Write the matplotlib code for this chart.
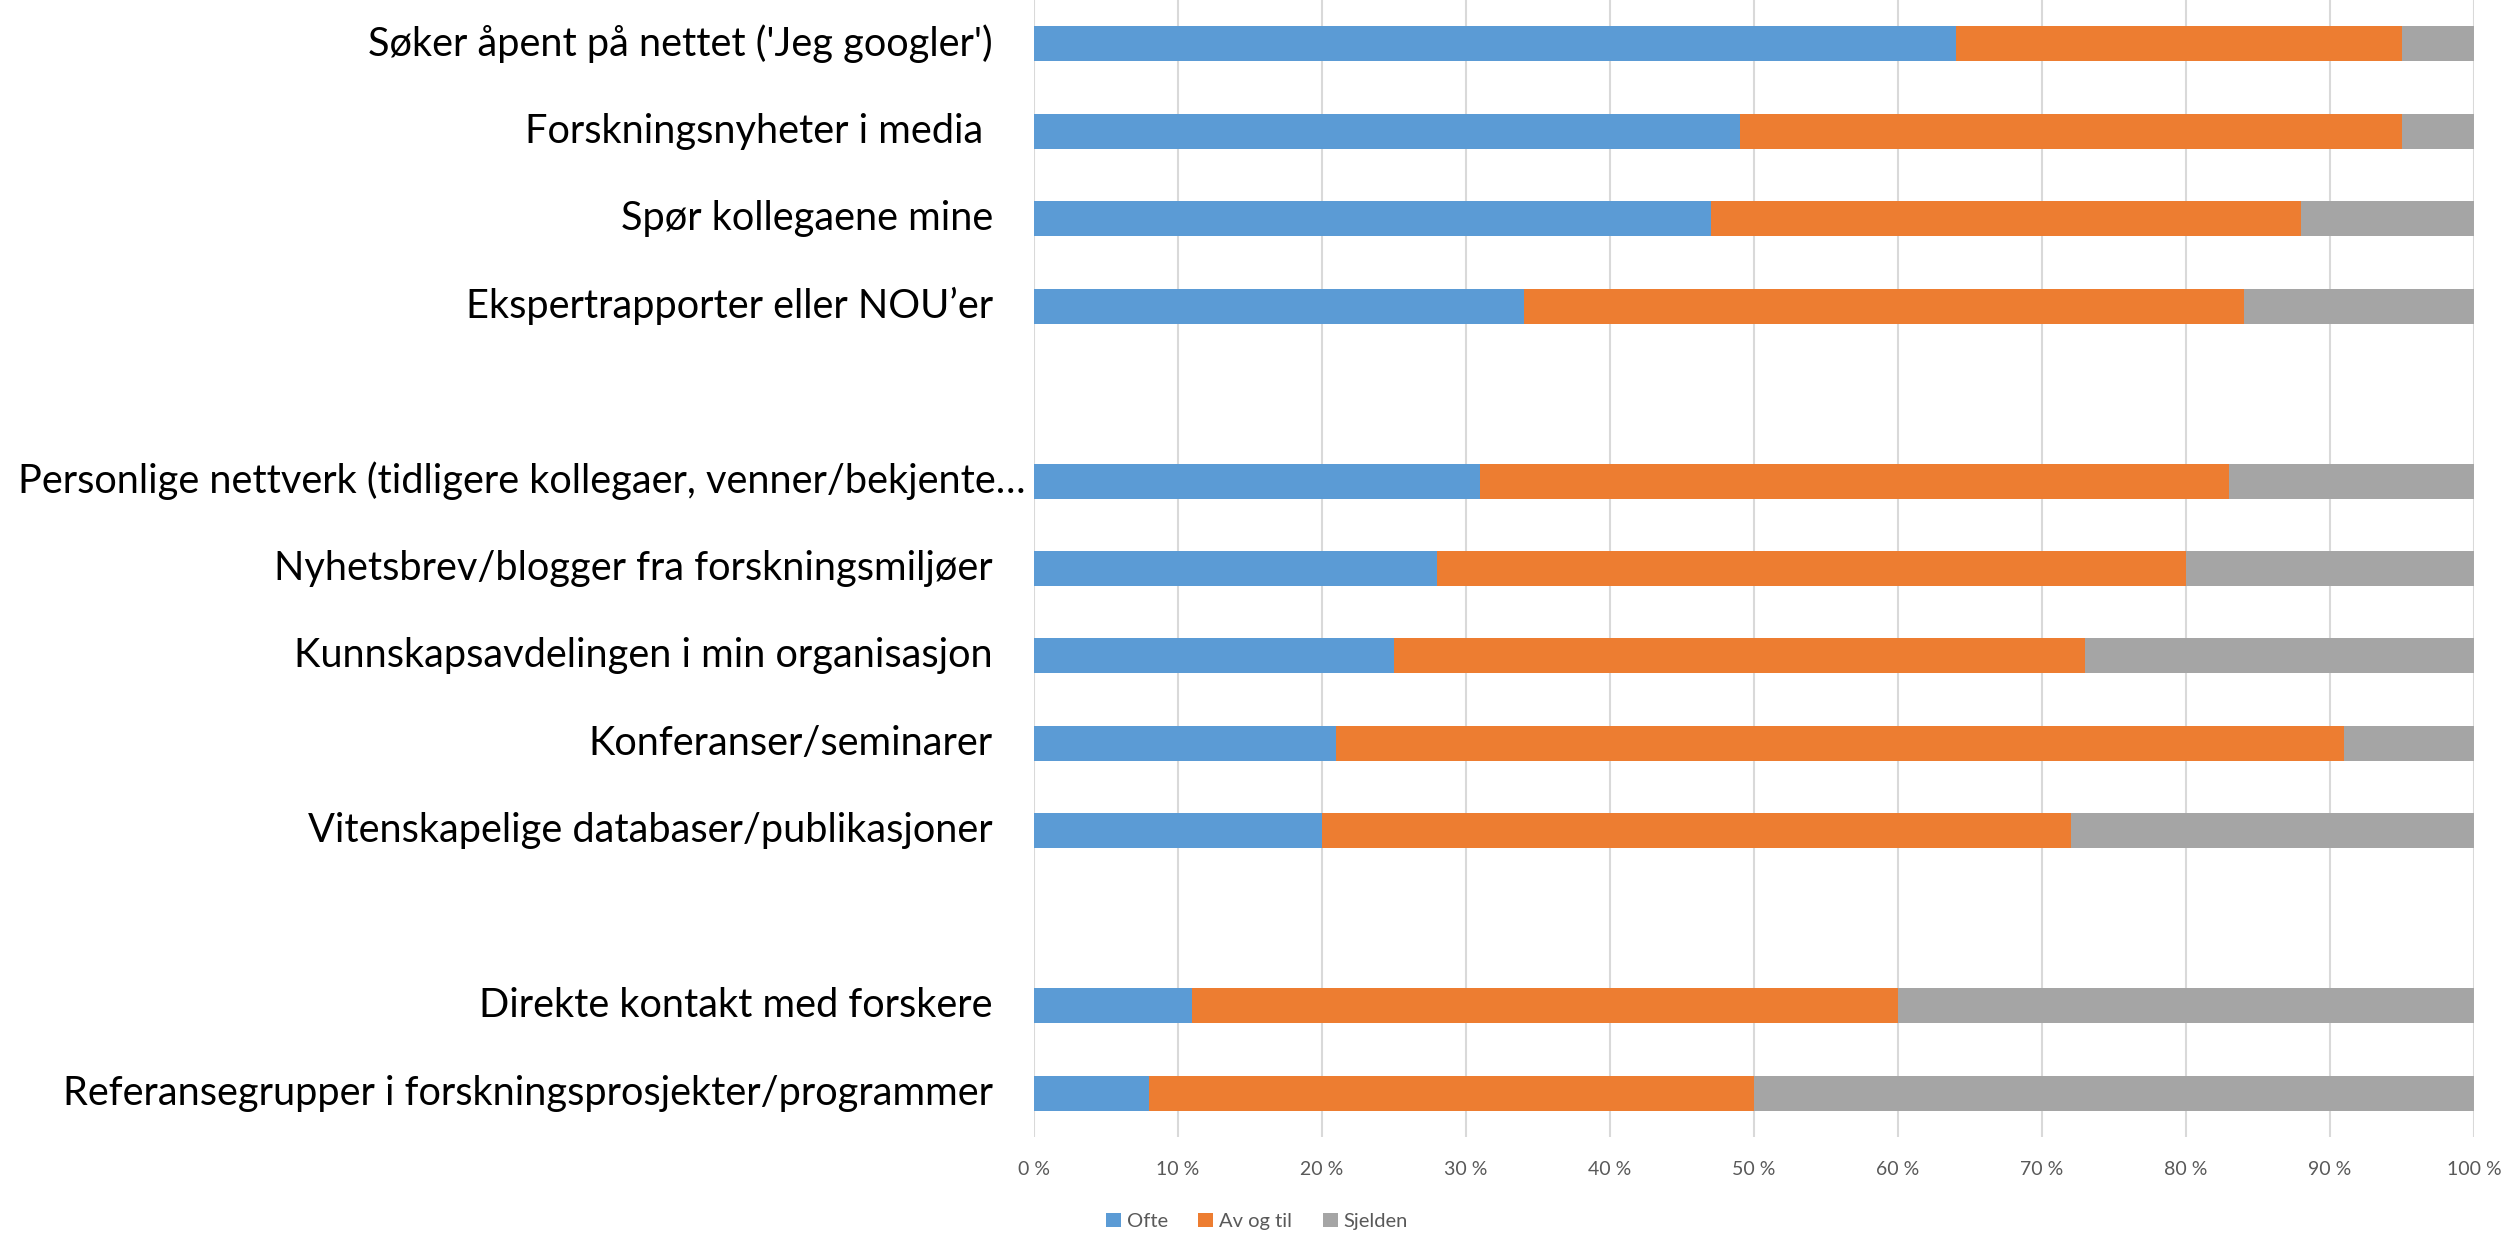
import matplotlib.pyplot as plt
import numpy as np

plt.rcParams['font.family'] = ['Lato', 'DejaVu Sans']

# Kilder til forskningskunnskap, andel svar (%)
categories = [
    "Søker åpent på nettet ('Jeg googler')",
    "Forskningsnyheter i media ",
    "Spør kollegaene mine",
    "Ekspertrapporter eller NOU’er",
    "Personlige nettverk (tidligere kollegaer, venner/bekjente…",
    "Nyhetsbrev/blogger fra forskningsmiljøer",
    "Kunnskapsavdelingen i min organisasjon",
    "Konferanser/seminarer",
    "Vitenskapelige databaser/publikasjoner",
    "Direkte kontakt med forskere",
    "Referansegrupper i forskningsprosjekter/programmer",
]
group_sizes = [4, 5, 2]  # a blank row between the groups

ofte = [64, 49, 47, 34, 31, 28, 25, 21, 20, 11, 8]
av_og_til = [31, 46, 41, 50, 52, 52, 48, 70, 52, 49, 42]
sjelden = [5, 5, 12, 16, 17, 20, 27, 9, 28, 40, 50]

series_names = ["Ofte", "Av og til", "Sjelden"]
colors = ["#5B9BD5", "#ED7D31", "#A5A5A5"]
xticks = np.arange(0, 101, 10)


def row_positions(sizes):
    pos = []
    row = 0
    for size in sizes:
        for _ in range(size):
            pos.append(row)
            row += 1
        row += 1  # gap row
    return pos, row - 1


def main():
    ypos, n_rows = row_positions(group_sizes)

    fig = plt.figure(figsize=(25.14, 12.35), dpi=100)
    ax = fig.add_axes([1034 / 2514, 1 - 1137 / 1235, 1440 / 2514, 1137 / 1235])

    left = np.zeros(len(categories))
    for name, vals, col in zip(series_names, [ofte, av_og_til, sjelden], colors):
        vals = np.array(vals, dtype=float)
        ax.barh(ypos, vals, left=left, height=0.4, color=col, label=name, zorder=3)
        left += vals

    ax.set_xlim(0, 100)
    ax.set_ylim(n_rows - 0.5, -0.5)
    ax.set_xticks(xticks)
    ax.set_xticklabels([f"{t} %" for t in xticks], fontsize=14, color="#595959")
    ax.tick_params(axis="x", length=0, pad=17)
    ax.set_yticks([])
    ax.grid(axis="x", color="#D9D9D9", linewidth=1.5, zorder=0)
    for s in ax.spines.values():
        s.set_visible(False)

    # category labels (the long one is cut off by Excel and sits closer to the axis)
    for lab, y in zip(categories, ypos):
        x = -0.0056 if lab.endswith("…") else -0.0285
        ax.text(x, y, lab, transform=ax.get_yaxis_transform(), ha="right", va="center",
                fontsize=28.6, color="black")

    fig.legend(loc="center", bbox_to_anchor=(0.5, 0.011), ncol=3, frameon=False,
               fontsize=14.5, labelcolor="#595959", handlelength=0.75, handleheight=0.75,
               handletextpad=0.3, columnspacing=1.5, borderpad=0)

    fig.savefig("out.png", dpi=100)


if __name__ == '__main__':
    main()
